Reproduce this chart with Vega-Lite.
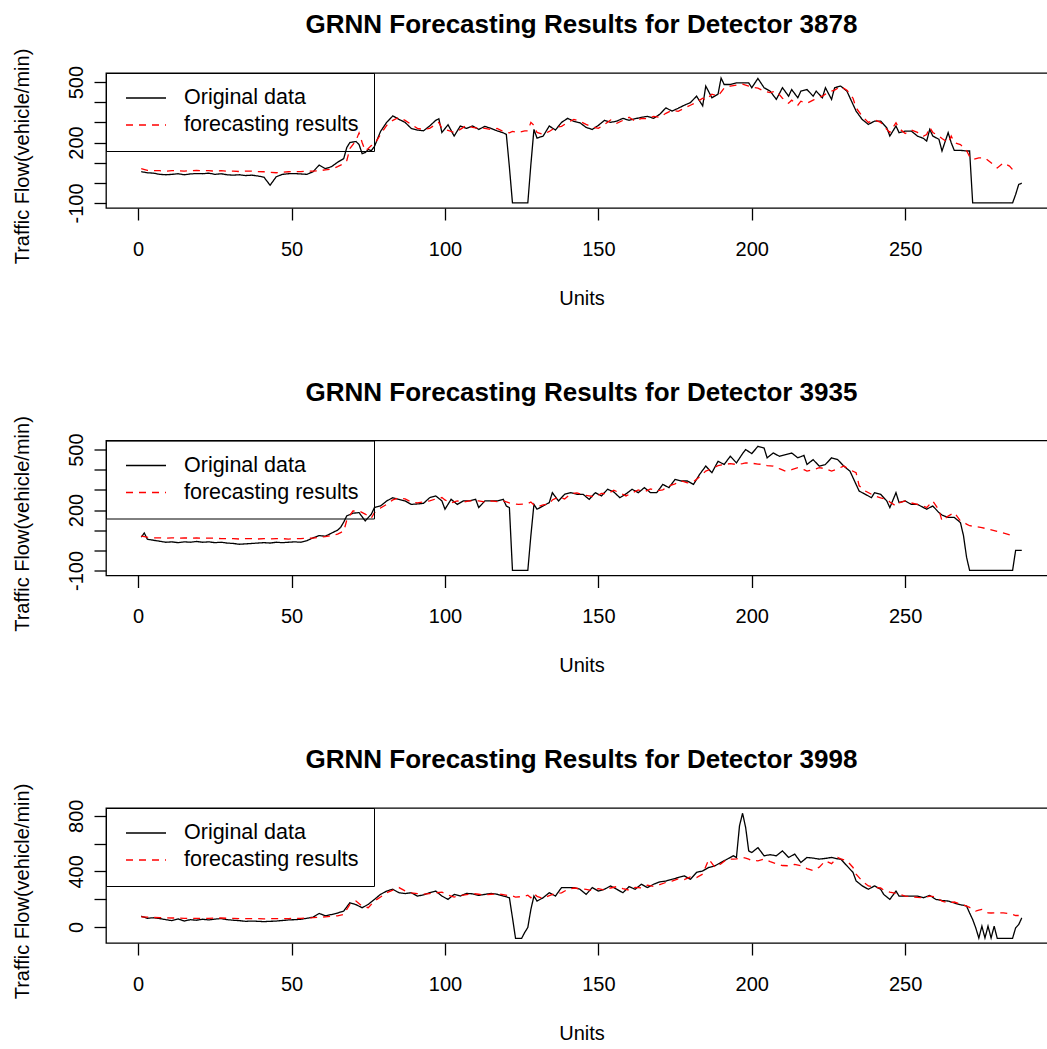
{
  "$schema": "https://vega.github.io/schema/vega-lite/v6.json",
  "padding": {"left": 11, "top": 11, "right": 0, "bottom": 0},
  "bounds": "flush",
  "spacing": 232.5,
  "datasets": {
    "d3878": [
      {"u":1,"o":55,"f":70},{"u":3,"o":50,"f":62},{"u":5,"o":48,"f":60},{"u":7,"o":42,"f":60},{"u":9,"o":40,"f":58},
      {"u":11,"o":42,"f":60},{"u":13,"o":45,"f":60},{"u":15,"o":40,"f":58},{"u":17,"o":44,"f":60},{"u":19,"o":46,"f":62},
      {"u":21,"o":45,"f":60},{"u":23,"o":48,"f":60},{"u":25,"o":42,"f":58},{"u":27,"o":45,"f":60},{"u":29,"o":40,"f":58},
      {"u":31,"o":38,"f":58},{"u":33,"o":40,"f":56},{"u":35,"o":36,"f":58},{"u":37,"o":38,"f":58},{"u":39,"o":34,"f":56},
      {"u":41,"o":28,"f":55},{"u":43,"o":-12,"f":52},{"u":45,"o":30,"f":50},{"u":47,"o":42,"f":52},{"u":49,"o":45,"f":55},
      {"u":51,"o":46,"f":56},{"u":53,"o":44,"f":56},{"u":55,"o":42,"f":58},{"u":57,"o":55,"f":58},{"u":59,"o":88,"f":60},
      {"u":61,"o":70,"f":64},{"u":63,"o":80,"f":68},{"u":65,"o":102,"f":80},{"u":67,"o":120,"f":95},{"u":68,"o":175,"f":110},
      {"u":69,"o":200,"f":170},{"u":71,"o":205,"f":210},{"u":72,"o":190,"f":248},{"u":73,"o":145,"f":200},{"u":74,"o":150,"f":160},
      {"u":75,"o":165,"f":170},{"u":76,"o":160,"f":185},{"u":77,"o":180,"f":190},{"u":79,"o":255,"f":240},{"u":81,"o":300,"f":285},
      {"u":83,"o":332,"f":310},{"u":85,"o":315,"f":325},{"u":87,"o":300,"f":310},{"u":89,"o":270,"f":290},{"u":91,"o":262,"f":270},
      {"u":93,"o":258,"f":265},{"u":95,"o":282,"f":270},{"u":97,"o":310,"f":290},{"u":98,"o":318,"f":300},{"u":99,"o":250,"f":270},
      {"u":101,"o":288,"f":260},{"u":103,"o":232,"f":250},{"u":105,"o":282,"f":265},{"u":107,"o":270,"f":285},{"u":109,"o":282,"f":275},
      {"u":111,"o":265,"f":270},{"u":113,"o":280,"f":270},{"u":115,"o":270,"f":265},{"u":117,"o":258,"f":270},{"u":119,"o":248,"f":255},
      {"u":120,"o":240,"f":250},{"u":121,"o":78,"f":248},{"u":122,"o":-100,"f":255},{"u":124,"o":-100,"f":250},{"u":126,"o":-100,"f":258},
      {"u":127,"o":-100,"f":258},{"u":128,"o":91,"f":300},{"u":129,"o":265,"f":285},{"u":130,"o":222,"f":250},{"u":132,"o":232,"f":240},
      {"u":134,"o":282,"f":255},{"u":136,"o":262,"f":275},{"u":138,"o":300,"f":280},{"u":140,"o":320,"f":300},{"u":142,"o":305,"f":315},
      {"u":144,"o":298,"f":305},{"u":146,"o":275,"f":290},{"u":148,"o":265,"f":278},{"u":150,"o":285,"f":270},{"u":152,"o":310,"f":290},
      {"u":154,"o":300,"f":312},{"u":156,"o":306,"f":295},{"u":158,"o":320,"f":310},{"u":160,"o":310,"f":325},{"u":162,"o":318,"f":305},
      {"u":164,"o":325,"f":320},{"u":166,"o":330,"f":318},{"u":168,"o":320,"f":330},{"u":170,"o":340,"f":325},{"u":172,"o":372,"f":345},
      {"u":174,"o":356,"f":360},{"u":176,"o":370,"f":355},{"u":178,"o":385,"f":370},{"u":180,"o":398,"f":385},{"u":182,"o":430,"f":400},
      {"u":184,"o":382,"f":420},{"u":185,"o":480,"f":410},{"u":187,"o":422,"f":440},{"u":189,"o":440,"f":430},{"u":190,"o":520,"f":450},
      {"u":191,"o":488,"f":470},{"u":193,"o":488,"f":480},{"u":195,"o":496,"f":485},{"u":197,"o":496,"f":490},{"u":199,"o":496,"f":480},
      {"u":200,"o":472,"f":475},{"u":202,"o":518,"f":470},{"u":204,"o":472,"f":455},{"u":206,"o":455,"f":448},{"u":208,"o":414,"f":455},
      {"u":210,"o":472,"f":420},{"u":212,"o":430,"f":395},{"u":213,"o":463,"f":410},{"u":215,"o":422,"f":385},{"u":216,"o":455,"f":405},
      {"u":218,"o":463,"f":395},{"u":220,"o":430,"f":410},{"u":221,"o":455,"f":420},{"u":223,"o":422,"f":430},{"u":224,"o":472,"f":440},
      {"u":226,"o":414,"f":455},{"u":227,"o":472,"f":460},{"u":229,"o":480,"f":478},{"u":231,"o":455,"f":460},{"u":233,"o":389,"f":420},
      {"u":234,"o":356,"f":372},{"u":236,"o":314,"f":330},{"u":238,"o":290,"f":300},{"u":240,"o":306,"f":312},{"u":242,"o":306,"f":300},
      {"u":244,"o":273,"f":265},{"u":245,"o":232,"f":250},{"u":247,"o":282,"f":298},{"u":248,"o":249,"f":270},{"u":250,"o":257,"f":245},
      {"u":252,"o":257,"f":262},{"u":254,"o":232,"f":250},{"u":256,"o":220,"f":232},{"u":257,"o":207,"f":240},{"u":258,"o":265,"f":275},
      {"u":259,"o":232,"f":250},{"u":261,"o":216,"f":232},{"u":262,"o":158,"f":220},{"u":264,"o":249,"f":199},{"u":265,"o":199,"f":232},
      {"u":266,"o":161,"f":200},{"u":268,"o":161,"f":190},{"u":270,"o":158,"f":160},{"u":271,"o":158,"f":130},{"u":272,"o":-100,"f":116},
      {"u":274,"o":-100,"f":124},{"u":276,"o":-100,"f":124},{"u":278,"o":-100,"f":99},{"u":280,"o":-100,"f":74},{"u":282,"o":-100,"f":99},
      {"u":284,"o":-100,"f":83},{"u":285,"o":-100,"f":66},{"u":286,"o":-58},{"u":287,"o":-8},{"u":288,"o":-2}
    ],
    "d3935": [
      {"u":1,"o":65,"f":70},{"u":2,"o":86,"f":68},{"u":3,"o":55,"f":65},{"u":5,"o":50,"f":62},{"u":7,"o":45,"f":62},
      {"u":9,"o":40,"f":60},{"u":11,"o":42,"f":62},{"u":13,"o":38,"f":60},{"u":15,"o":42,"f":62},{"u":17,"o":40,"f":60},
      {"u":19,"o":44,"f":62},{"u":21,"o":40,"f":60},{"u":23,"o":42,"f":60},{"u":25,"o":38,"f":60},{"u":27,"o":40,"f":58},
      {"u":29,"o":36,"f":58},{"u":31,"o":34,"f":58},{"u":33,"o":30,"f":56},{"u":35,"o":32,"f":58},{"u":37,"o":34,"f":58},
      {"u":39,"o":36,"f":56},{"u":41,"o":38,"f":58},{"u":43,"o":36,"f":56},{"u":45,"o":40,"f":58},{"u":47,"o":38,"f":58},
      {"u":49,"o":40,"f":56},{"u":51,"o":42,"f":58},{"u":53,"o":40,"f":58},{"u":55,"o":48,"f":60},{"u":57,"o":62,"f":60},
      {"u":59,"o":73,"f":64},{"u":61,"o":70,"f":68},{"u":63,"o":85,"f":73},{"u":65,"o":100,"f":80},{"u":66,"o":114,"f":88},
      {"u":67,"o":140,"f":95},{"u":68,"o":171,"f":150},{"u":70,"o":184,"f":195},{"u":72,"o":187,"f":195},{"u":74,"o":146,"f":180},
      {"u":76,"o":179,"f":160},{"u":77,"o":212,"f":187},{"u":79,"o":220,"f":210},{"u":81,"o":245,"f":228},{"u":83,"o":261,"f":250},
      {"u":85,"o":253,"f":261},{"u":87,"o":245,"f":255},{"u":89,"o":228,"f":240},{"u":91,"o":230,"f":235},{"u":93,"o":233,"f":240},
      {"u":95,"o":261,"f":245},{"u":97,"o":270,"f":255},{"u":99,"o":245,"f":262},{"u":100,"o":204,"f":250},{"u":102,"o":253,"f":235},
      {"u":104,"o":228,"f":245},{"u":106,"o":245,"f":240},{"u":108,"o":245,"f":245},{"u":110,"o":253,"f":245},{"u":111,"o":212,"f":245},
      {"u":113,"o":245,"f":240},{"u":115,"o":245,"f":245},{"u":117,"o":245,"f":242},{"u":119,"o":253,"f":245},{"u":120,"o":220,"f":240},
      {"u":121,"o":212,"f":235},{"u":122,"o":-100,"f":232},{"u":124,"o":-100,"f":228},{"u":126,"o":-100,"f":230},{"u":127,"o":-100,"f":232},
      {"u":128,"o":73,"f":240},{"u":129,"o":228,"f":225},{"u":130,"o":204,"f":215},{"u":132,"o":220,"f":225},{"u":134,"o":237,"f":230},
      {"u":135,"o":286,"f":250},{"u":137,"o":245,"f":265},{"u":139,"o":278,"f":255},{"u":141,"o":286,"f":280},{"u":143,"o":278,"f":285},
      {"u":145,"o":278,"f":275},{"u":147,"o":253,"f":270},{"u":149,"o":286,"f":265},{"u":151,"o":270,"f":282},{"u":153,"o":303,"f":280},
      {"u":155,"o":290,"f":298},{"u":157,"o":261,"f":285},{"u":159,"o":280,"f":270},{"u":161,"o":303,"f":285},{"u":163,"o":286,"f":300},
      {"u":165,"o":311,"f":290},{"u":167,"o":286,"f":305},{"u":169,"o":286,"f":295},{"u":171,"o":327,"f":300},{"u":173,"o":311,"f":320},
      {"u":175,"o":352,"f":330},{"u":177,"o":344,"f":345},{"u":179,"o":344,"f":335},{"u":181,"o":327,"f":340},{"u":183,"o":377,"f":365},
      {"u":185,"o":418,"f":393},{"u":187,"o":385,"f":405},{"u":189,"o":442,"f":420},{"u":191,"o":426,"f":426},{"u":193,"o":467,"f":430},
      {"u":195,"o":434,"f":426},{"u":197,"o":480,"f":430},{"u":198,"o":500,"f":434},{"u":200,"o":480,"f":432},{"u":202,"o":516,"f":428},
      {"u":204,"o":508,"f":426},{"u":205,"o":459,"f":420},{"u":207,"o":483,"f":418},{"u":209,"o":467,"f":405},{"u":211,"o":475,"f":393},
      {"u":213,"o":483,"f":400},{"u":215,"o":459,"f":410},{"u":217,"o":471,"f":400},{"u":218,"o":426,"f":393},{"u":220,"o":450,"f":400},
      {"u":222,"o":418,"f":410},{"u":224,"o":426,"f":405},{"u":226,"o":459,"f":393},{"u":228,"o":450,"f":405},{"u":230,"o":418,"f":418},
      {"u":232,"o":393,"f":400},{"u":234,"o":327,"f":385},{"u":235,"o":294,"f":320},{"u":237,"o":278,"f":294},{"u":239,"o":261,"f":278},
      {"u":240,"o":286,"f":270},{"u":242,"o":278,"f":260},{"u":244,"o":245,"f":253},{"u":245,"o":212,"f":240},{"u":247,"o":286,"f":220},
      {"u":248,"o":237,"f":235},{"u":250,"o":245,"f":245},{"u":252,"o":228,"f":235},{"u":254,"o":228,"f":228},{"u":256,"o":212,"f":220},
      {"u":257,"o":204,"f":212},{"u":259,"o":220,"f":245},{"u":261,"o":187,"f":200},{"u":262,"o":175,"f":146},{"u":264,"o":163,"f":170},
      {"u":266,"o":163,"f":187},{"u":268,"o":138,"f":146},{"u":269,"o":73,"f":140},{"u":270,"o":-34,"f":130},{"u":271,"o":-100,"f":122},
      {"u":273,"o":-100,"f":118},{"u":275,"o":-100,"f":113},{"u":277,"o":-100,"f":105},{"u":279,"o":-100,"f":98},{"u":281,"o":-100,"f":89},
      {"u":283,"o":-100,"f":82},{"u":285,"o":-100,"f":73},{"u":286,"o":0},{"u":288,"o":0}
    ],
    "d3998": [
      {"u":1,"o":77,"f":72},{"u":3,"o":62,"f":70},{"u":5,"o":66,"f":68},{"u":7,"o":60,"f":66},{"u":9,"o":52,"f":66},
      {"u":11,"o":45,"f":64},{"u":13,"o":58,"f":64},{"u":15,"o":42,"f":62},{"u":17,"o":52,"f":62},{"u":19,"o":48,"f":62},
      {"u":21,"o":55,"f":62},{"u":23,"o":50,"f":62},{"u":25,"o":56,"f":64},{"u":27,"o":60,"f":64},{"u":29,"o":52,"f":62},
      {"u":31,"o":48,"f":62},{"u":33,"o":45,"f":60},{"u":35,"o":40,"f":60},{"u":37,"o":42,"f":60},{"u":39,"o":40,"f":60},
      {"u":41,"o":38,"f":58},{"u":43,"o":40,"f":60},{"u":45,"o":42,"f":60},{"u":47,"o":46,"f":60},{"u":49,"o":50,"f":60},
      {"u":51,"o":52,"f":62},{"u":53,"o":55,"f":62},{"u":55,"o":62,"f":64},{"u":57,"o":70,"f":66},{"u":59,"o":97,"f":70},
      {"u":61,"o":80,"f":72},{"u":63,"o":89,"f":76},{"u":65,"o":100,"f":80},{"u":67,"o":114,"f":90},{"u":69,"o":174,"f":162},
      {"u":71,"o":160,"f":186},{"u":73,"o":138,"f":150},{"u":75,"o":162,"f":138},{"u":77,"o":198,"f":186},{"u":79,"o":234,"f":215},
      {"u":81,"o":258,"f":246},{"u":83,"o":271,"f":265},{"u":85,"o":246,"f":283},{"u":87,"o":240,"f":260},{"u":89,"o":246,"f":245},
      {"u":91,"o":222,"f":240},{"u":93,"o":230,"f":235},{"u":95,"o":246,"f":240},{"u":97,"o":258,"f":245},{"u":99,"o":222,"f":250},
      {"u":101,"o":198,"f":230},{"u":103,"o":234,"f":215},{"u":105,"o":222,"f":225},{"u":107,"o":241,"f":232},{"u":109,"o":238,"f":240},
      {"u":111,"o":227,"f":235},{"u":113,"o":234,"f":230},{"u":115,"o":241,"f":235},{"u":117,"o":235,"f":238},{"u":119,"o":222,"f":232},
      {"u":121,"o":210,"f":225},{"u":122,"o":66,"f":222},{"u":123,"o":-82,"f":215},{"u":125,"o":-82,"f":218},{"u":126,"o":-40,"f":222},
      {"u":127,"o":-4,"f":228},{"u":128,"o":126,"f":210},{"u":129,"o":222,"f":240},{"u":130,"o":186,"f":220},{"u":132,"o":210,"f":205},
      {"u":134,"o":246,"f":225},{"u":136,"o":222,"f":240},{"u":138,"o":283,"f":245},{"u":140,"o":283,"f":270},{"u":142,"o":283,"f":280},
      {"u":144,"o":271,"f":275},{"u":146,"o":234,"f":270},{"u":148,"o":283,"f":262},{"u":150,"o":258,"f":275},{"u":152,"o":271,"f":265},
      {"u":154,"o":295,"f":280},{"u":156,"o":271,"f":290},{"u":158,"o":246,"f":275},{"u":160,"o":290,"f":265},{"u":162,"o":271,"f":285},
      {"u":164,"o":307,"f":280},{"u":166,"o":283,"f":300},{"u":168,"o":307,"f":292},{"u":170,"o":324,"f":305},{"u":172,"o":330,"f":320},
      {"u":174,"o":343,"f":330},{"u":176,"o":355,"f":345},{"u":178,"o":367,"f":340},{"u":180,"o":343,"f":360},{"u":182,"o":392,"f":355},
      {"u":184,"o":403,"f":380},{"u":186,"o":428,"f":488},{"u":188,"o":440,"f":428},{"u":190,"o":464,"f":455},{"u":192,"o":488,"f":488},
      {"u":194,"o":512,"f":488},{"u":195,"o":500,"f":490},{"u":196,"o":728,"f":495},{"u":197,"o":818,"f":500},{"u":198,"o":716,"f":495},
      {"u":199,"o":547,"f":488},{"u":200,"o":535,"f":478},{"u":202,"o":571,"f":476},{"u":204,"o":512,"f":488},{"u":206,"o":520,"f":470},
      {"u":208,"o":512,"f":455},{"u":210,"o":547,"f":442},{"u":212,"o":500,"f":440},{"u":214,"o":524,"f":450},{"u":216,"o":464,"f":440},
      {"u":218,"o":500,"f":420},{"u":220,"o":495,"f":405},{"u":222,"o":488,"f":430},{"u":224,"o":493,"f":476},{"u":226,"o":500,"f":455},
      {"u":228,"o":490,"f":500},{"u":229,"o":488,"f":490},{"u":231,"o":440,"f":476},{"u":233,"o":392,"f":428},{"u":234,"o":331,"f":380},
      {"u":236,"o":295,"f":330},{"u":238,"o":271,"f":295},{"u":240,"o":295,"f":285},{"u":242,"o":271,"f":280},{"u":243,"o":234,"f":265},
      {"u":245,"o":198,"f":250},{"u":247,"o":258,"f":240},{"u":248,"o":222,"f":235},{"u":250,"o":222,"f":222},{"u":252,"o":222,"f":218},
      {"u":254,"o":222,"f":212},{"u":256,"o":210,"f":210},{"u":258,"o":227,"f":222},{"u":260,"o":198,"f":215},{"u":262,"o":190,"f":185},
      {"u":264,"o":186,"f":174},{"u":266,"o":172,"f":179},{"u":268,"o":160,"f":165},{"u":270,"o":150,"f":150},{"u":271,"o":100,"f":140},
      {"u":272,"o":53,"f":130},{"u":273,"o":-7,"f":114},{"u":274,"o":-80,"f":120},{"u":275,"o":5,"f":126},{"u":276,"o":-80,"f":115},
      {"u":277,"o":5,"f":101},{"u":278,"o":-80,"f":100},{"u":279,"o":5,"f":101},{"u":280,"o":-82,"f":101},{"u":282,"o":-82,"f":101},
      {"u":284,"o":-82,"f":95},{"u":285,"o":-82,"f":90},{"u":286,"o":-7,"f":82},{"u":287,"o":17,"f":82},{"u":288,"o":65}
    ]
  },
  "config": {
    "font": "Liberation Sans",
    "view": {"stroke": "#000000", "strokeWidth": 1.3},
    "axis": {
      "grid": false, "domain": false,
      "tickColor": "#000000", "tickSize": 12, "tickWidth": 1.3,
      "labelFont": "Liberation Sans", "labelFontSize": 20, "labelColor": "#000000",
      "labelOverlap": false, "labelFlush": false,
      "titleFont": "Liberation Sans", "titleFontSize": 20, "titleFontWeight": "normal", "titleColor": "#000000"
    },
    "axisX": {"labelPadding": 19, "labelBaseline": "top", "titleY": 96, "titleBaseline": "alphabetic"},
    "axisY": {
      "labelAngle": 270, "labelAlign": "center", "labelBaseline": "alphabetic", "labelPadding": 12,
      "titleX": -78, "titleY": 83, "titleAngle": 270, "titleAlign": "center", "titleBaseline": "alphabetic"
    },
    "title": {
      "font": "Liberation Sans", "fontSize": 26, "fontWeight": "bold", "color": "#000000",
      "frame": "group", "anchor": "middle", "baseline": "alphabetic", "offset": 10
    },
    "legend": {
      "strokeColor": "#000000", "padding": 15, "symbolOffset": 4, "clipHeight": 20,
      "symbolType": "stroke", "symbolSize": 1600, "symbolStrokeWidth": 1.3,
      "labelFont": "Liberation Sans", "labelFontSize": 21.5, "labelColor": "#000000", "labelLimit": 400,
      "labelOffset": 17, "rowPadding": 5
    },
    "line": {"strokeWidth": 1.3}
  },
  "vconcat": [
    {
      "title": "GRNN Forecasting Results for Detector 3878",
      "width": 951, "height": 135,
      "data": {"name": "d3878"},
      "transform": [{"fold": ["o", "f"], "as": ["series", "value"]}],
      "mark": {"type": "line"},
      "encoding": {
        "x": {"field": "u", "type": "quantitative", "title": "Units",
              "scale": {"domain": [-10.48, 299.48], "nice": false, "zero": false},
              "axis": {"values": [0, 50, 100, 150, 200, 250]}},
        "y": {"field": "value", "type": "quantitative", "title": "Traffic Flow(vehicle/min)",
              "scale": {"domain": [-125, 545], "nice": false, "zero": false},
              "axis": {"values": [-100, 0, 100, 200, 300, 400, 500],
                       "labelExpr": "indexof([-100, 200, 500], datum.value) >= 0 ? '' + datum.value : ''"}},
        "color": {"field": "series", "type": "nominal",
                  "scale": {"domain": ["o", "f"], "range": ["#000000", "#ff0000"]},
                  "legend": {"title": null, "orient": "none", "legendX": 0, "legendY": 0,
                             "labelExpr": "datum.value == 'o' ? 'Original data' : 'forecasting results'"}},
        "strokeDash": {"field": "series", "type": "nominal",
                       "scale": {"domain": ["o", "f"], "range": [[1, 0], [7, 6]]},
                       "legend": {"title": null, "orient": "none", "legendX": 0, "legendY": 0,
                                  "labelExpr": "datum.value == 'o' ? 'Original data' : 'forecasting results'"}}
      }
    },
    {
      "title": "GRNN Forecasting Results for Detector 3935",
      "width": 951, "height": 135,
      "data": {"name": "d3935"},
      "transform": [{"fold": ["o", "f"], "as": ["series", "value"]}],
      "mark": {"type": "line"},
      "encoding": {
        "x": {"field": "u", "type": "quantitative", "title": "Units",
              "scale": {"domain": [-10.48, 299.48], "nice": false, "zero": false},
              "axis": {"values": [0, 50, 100, 150, 200, 250]}},
        "y": {"field": "value", "type": "quantitative", "title": "Traffic Flow(vehicle/min)",
              "scale": {"domain": [-125, 545], "nice": false, "zero": false},
              "axis": {"values": [-100, 0, 100, 200, 300, 400, 500],
                       "labelExpr": "indexof([-100, 200, 500], datum.value) >= 0 ? '' + datum.value : ''"}},
        "color": {"field": "series", "type": "nominal",
                  "scale": {"domain": ["o", "f"], "range": ["#000000", "#ff0000"]},
                  "legend": {"title": null, "orient": "none", "legendX": 0, "legendY": 0,
                             "labelExpr": "datum.value == 'o' ? 'Original data' : 'forecasting results'"}},
        "strokeDash": {"field": "series", "type": "nominal",
                       "scale": {"domain": ["o", "f"], "range": [[1, 0], [7, 6]]},
                       "legend": {"title": null, "orient": "none", "legendX": 0, "legendY": 0,
                                  "labelExpr": "datum.value == 'o' ? 'Original data' : 'forecasting results'"}}
      }
    },
    {
      "title": "GRNN Forecasting Results for Detector 3998",
      "width": 951, "height": 135,
      "data": {"name": "d3998"},
      "transform": [{"fold": ["o", "f"], "as": ["series", "value"]}],
      "mark": {"type": "line"},
      "encoding": {
        "x": {"field": "u", "type": "quantitative", "title": "Units",
              "scale": {"domain": [-10.48, 299.48], "nice": false, "zero": false},
              "axis": {"values": [0, 50, 100, 150, 200, 250]}},
        "y": {"field": "value", "type": "quantitative", "title": "Traffic Flow(vehicle/min)",
              "scale": {"domain": [-116, 856], "nice": false, "zero": false},
              "axis": {"values": [0, 200, 400, 600, 800],
                       "labelExpr": "indexof([0, 400, 800], datum.value) >= 0 ? '' + datum.value : ''"}},
        "color": {"field": "series", "type": "nominal",
                  "scale": {"domain": ["o", "f"], "range": ["#000000", "#ff0000"]},
                  "legend": {"title": null, "orient": "none", "legendX": 0, "legendY": 0,
                             "labelExpr": "datum.value == 'o' ? 'Original data' : 'forecasting results'"}},
        "strokeDash": {"field": "series", "type": "nominal",
                       "scale": {"domain": ["o", "f"], "range": [[1, 0], [7, 6]]},
                       "legend": {"title": null, "orient": "none", "legendX": 0, "legendY": 0,
                                  "labelExpr": "datum.value == 'o' ? 'Original data' : 'forecasting results'"}}
      }
    }
  ],
  "resolve": {"scale": {"color": "independent", "strokeDash": "independent"}}
}
